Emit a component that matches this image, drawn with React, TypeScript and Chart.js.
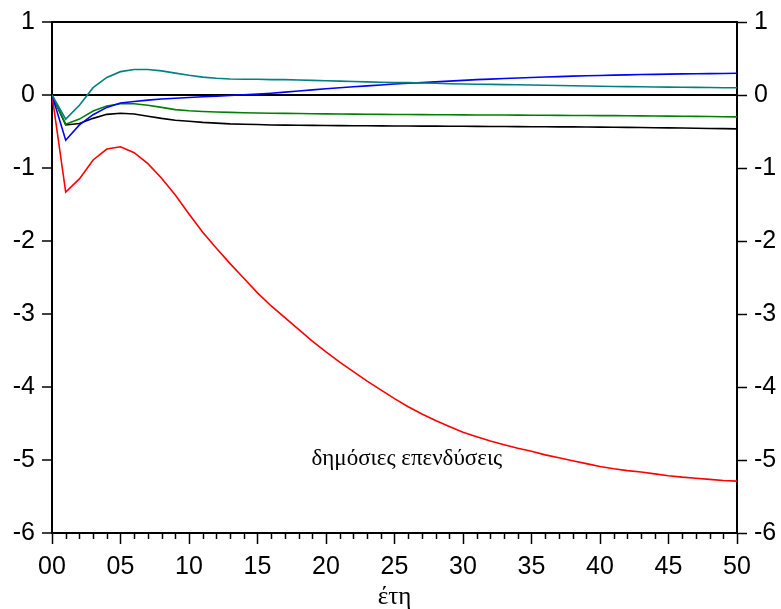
import React, { useEffect, useRef } from "react";
import { Chart, registerables } from "chart.js";

Chart.register(...registerables);

const years = Array.from({ length: 51 }, (_, i) => i);

const redSeries = [0, -1.33, -1.15, -0.89, -0.74, -0.71, -0.79, -0.94, -1.14, -1.37, -1.63, -1.88, -2.1, -2.31, -2.51, -2.71, -2.89, -3.05, -3.21, -3.37, -3.52, -3.66, -3.79, -3.92, -4.04, -4.16, -4.27, -4.37, -4.46, -4.54, -4.62, -4.68, -4.74, -4.79, -4.84, -4.88, -4.93, -4.97, -5.01, -5.05, -5.09, -5.12, -5.145, -5.165, -5.19, -5.215, -5.235, -5.25, -5.265, -5.28, -5.29];
const tealSeries = [0, -0.33, -0.14, 0.1, 0.24, 0.32, 0.35, 0.35, 0.33, 0.3, 0.27, 0.245, 0.23, 0.22, 0.215, 0.215, 0.21, 0.21, 0.205, 0.2, 0.195, 0.19, 0.185, 0.18, 0.175, 0.17, 0.17, 0.165, 0.16, 0.155, 0.15, 0.147, 0.145, 0.142, 0.14, 0.137, 0.134, 0.13, 0.127, 0.124, 0.12, 0.117, 0.115, 0.113, 0.11, 0.108, 0.106, 0.104, 0.102, 0.1, 0.1];
const blueSeries = [0, -0.62, -0.41, -0.27, -0.17, -0.11, -0.09, -0.07, -0.055, -0.045, -0.035, -0.025, -0.015, -0.005, 0.003, 0.012, 0.025, 0.04, 0.055, 0.07, 0.085, 0.1, 0.112, 0.125, 0.138, 0.15, 0.16, 0.17, 0.18, 0.19, 0.2, 0.21, 0.218, 0.226, 0.233, 0.24, 0.246, 0.252, 0.258, 0.263, 0.268, 0.272, 0.276, 0.28, 0.283, 0.286, 0.289, 0.291, 0.293, 0.295, 0.297];
const greenSeries = [0, -0.4, -0.33, -0.22, -0.15, -0.12, -0.12, -0.14, -0.17, -0.2, -0.215, -0.225, -0.232, -0.238, -0.243, -0.247, -0.25, -0.252, -0.254, -0.256, -0.258, -0.26, -0.262, -0.264, -0.266, -0.267, -0.268, -0.269, -0.27, -0.271, -0.272, -0.273, -0.274, -0.275, -0.276, -0.277, -0.278, -0.279, -0.28, -0.281, -0.282, -0.283, -0.285, -0.286, -0.288, -0.289, -0.291, -0.293, -0.295, -0.297, -0.299];
const blackSeries = [0, -0.41, -0.39, -0.32, -0.265, -0.25, -0.26, -0.29, -0.32, -0.345, -0.36, -0.375, -0.385, -0.395, -0.4, -0.405, -0.41, -0.412, -0.414, -0.416, -0.418, -0.42, -0.421, -0.422, -0.423, -0.424, -0.425, -0.426, -0.427, -0.428, -0.429, -0.43, -0.431, -0.432, -0.433, -0.434, -0.435, -0.436, -0.437, -0.438, -0.44, -0.442, -0.444, -0.446, -0.448, -0.45, -0.452, -0.455, -0.458, -0.461, -0.464];

const xMajorTicks = [0, 5, 10, 15, 20, 25, 30, 35, 40, 45, 50];
const yTicks = [1, 0, -1, -2, -3, -4, -5, -6];
const xTitle = "έτη";
const annotationText = "δημόσιες επενδύσεις";
const annotationAt = { x: 25.9, y: -5.07 };

const SANS = '"Liberation Sans", Arial, sans-serif';
const SERIF = '"Liberation Serif", "Times New Roman", serif';

const toPts = (vals: number[]) => years.map((t, i) => ({ x: t, y: vals[i] }));

export default function App() {
  const ref = useRef<HTMLCanvasElement | null>(null);

  useEffect(() => {
    if (!ref.current) return;
    const extras = {
      id: "extras",
      afterDraw(chart: any) {
        const { ctx, scales, chartArea } = chart;
        const xs = scales.x;
        ctx.save();
        ctx.strokeStyle = "#000";
        ctx.lineWidth = 1.5;
        for (const t of years) {
          if (t % 5 === 0) continue;
          const px = Math.round(xs.getPixelForValue(t)) + 0.5;
          ctx.beginPath();
          ctx.moveTo(px, chartArea.bottom);
          ctx.lineTo(px, chartArea.bottom + 6);
          ctx.stroke();
        }
        ctx.fillStyle = "#000";
        ctx.font = `23px ${SERIF}`;
        ctx.textAlign = "center";
        ctx.textBaseline = "alphabetic";
        ctx.fillText(
          annotationText,
          xs.getPixelForValue(annotationAt.x),
          scales.y.getPixelForValue(annotationAt.y)
        );
        ctx.restore();
      },
    };

    const mk = (data: number[], color: string) => ({
      data: toPts(data),
      borderColor: color,
      backgroundColor: color,
      borderWidth: 1.6,
      pointRadius: 0,
      tension: 0,
      fill: false,
    });

    const chart = new Chart(ref.current, {
      type: "line",
      data: {
        datasets: [
          mk(tealSeries, "#008080"),
          mk(blueSeries, "#0000FF"),
          mk(greenSeries, "#008000"),
          mk(blackSeries, "#000000"),
          mk(redSeries, "#FF0000"),
        ],
      },
      options: {
        animation: false,
        responsive: false,
        maintainAspectRatio: false,
        layout: { padding: { top: 22, left: 0, right: 0, bottom: 0 } },
        plugins: { legend: { display: false }, tooltip: { enabled: false } },
        scales: {
          x: {
            type: "linear",
            position: "bottom",
            min: 0,
            max: 50,
            afterBuildTicks: (s: any) => {
              s.ticks = xMajorTicks.map((v) => ({ value: v }));
            },
            afterFit: (s: any) => {
              s.height = 76;
            },
            ticks: {
              autoSkip: false,
              maxRotation: 0,
              padding: 8,
              color: "#000",
              font: { family: SANS, size: 25 },
              callback: (v: any) => String(v).padStart(2, "0"),
            },
            grid: {
              drawOnChartArea: false,
              tickLength: 11,
              tickColor: "#000",
              tickWidth: 1.5,
            },
            border: { display: true, color: "#000", width: 2 },
            title: {
              display: true,
              text: xTitle,
              color: "#000",
              font: { family: SERIF, size: 25 },
              padding: { top: 0, bottom: -3 },
            },
          },
          y: {
            type: "linear",
            position: "left",
            min: -6,
            max: 1,
            afterBuildTicks: (s: any) => {
              s.ticks = yTicks.map((v) => ({ value: v }));
            },
            afterFit: (s: any) => {
              s.width = 52;
            },
            ticks: {
              padding: 7,
              color: "#000",
              font: { family: SANS, size: 25 },
              callback: (v: any) => String(v),
            },
            grid: {
              drawOnChartArea: true,
              tickLength: 10,
              tickColor: "#000",
              tickWidth: 1.5,
              color: (c: any) =>
                c.tick && (c.tick.value === 0 || c.tick.value === 1) ? "#000" : "rgba(0,0,0,0)",
              lineWidth: 2,
            },
            border: { display: true, color: "#000", width: 2 },
          },
          y2: {
            type: "linear",
            position: "right",
            min: -6,
            max: 1,
            afterBuildTicks: (s: any) => {
              s.ticks = yTicks.map((v) => ({ value: v }));
            },
            afterFit: (s: any) => {
              s.width = 44;
            },
            ticks: {
              padding: 7,
              color: "#000",
              font: { family: SANS, size: 25 },
              callback: (v: any) => String(v),
            },
            grid: {
              drawOnChartArea: false,
              tickLength: 10,
              tickColor: "#000",
              tickWidth: 1.5,
            },
            border: { display: true, color: "#000", width: 2 },
          },
        },
      },
      plugins: [extras],
    } as any);

    return () => chart.destroy();
  }, []);

  return (
    <div style={{ position: "absolute", left: 0, top: 0, width: 781, height: 609, background: "#fff" }}>
      <canvas ref={ref} width={781} height={609} style={{ display: "block", width: 781, height: 609 }} />
    </div>
  );
}
